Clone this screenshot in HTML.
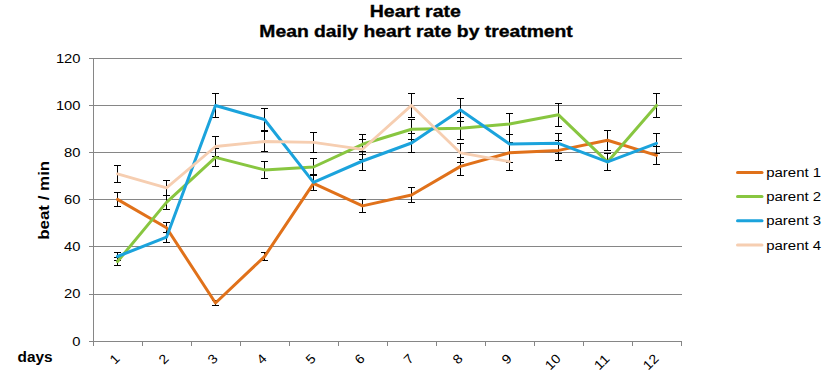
<!DOCTYPE html><html><head><meta charset="utf-8"><style>html,body{margin:0;padding:0;background:#fff;width:833px;height:373px;overflow:hidden}svg{display:block}text{font-family:"Liberation Sans",sans-serif;fill:#000}</style></head><body>
<svg width="833" height="373" viewBox="0 0 833 373">
<rect width="833" height="373" fill="#fff"/>
<text x="369.8" y="17" font-weight="bold" font-size="16" stroke="#000" stroke-width="0.35" textLength="91" lengthAdjust="spacingAndGlyphs">Heart rate</text>
<text x="259.3" y="36.7" font-weight="bold" font-size="16.3" stroke="#000" stroke-width="0.35" textLength="313.5" lengthAdjust="spacingAndGlyphs">Mean daily heart rate by treatment</text>
<path d="M89 58.5H682 M89 105.5H682 M89 152.5H682 M89 199.5H682 M89 246.5H682 M89 294.5H682" stroke="#868686" stroke-width="1" fill="none"/>
<path d="M93.5 58V346 M89 341.5H682 M93.5 341V346 M142.5 341V346 M191.5 341V346 M240.5 341V346 M289.5 341V346 M338.5 341V346 M387.5 341V346 M436.5 341V346 M485.5 341V346 M534.5 341V346 M583.5 341V346 M632.5 341V346 M681.5 341V346" stroke="#868686" stroke-width="1" fill="none"/>
<text x="80.5" y="345.5" text-anchor="end" font-size="12" textLength="8.2" lengthAdjust="spacingAndGlyphs">0</text>
<text x="80.5" y="298.3" text-anchor="end" font-size="12" textLength="16.4" lengthAdjust="spacingAndGlyphs">20</text>
<text x="80.5" y="251.2" text-anchor="end" font-size="12" textLength="16.4" lengthAdjust="spacingAndGlyphs">40</text>
<text x="80.5" y="204.0" text-anchor="end" font-size="12" textLength="16.4" lengthAdjust="spacingAndGlyphs">60</text>
<text x="80.5" y="156.8" text-anchor="end" font-size="12" textLength="16.4" lengthAdjust="spacingAndGlyphs">80</text>
<text x="80.5" y="109.7" text-anchor="end" font-size="12" textLength="24.6" lengthAdjust="spacingAndGlyphs">100</text>
<text x="80.5" y="62.5" text-anchor="end" font-size="12" textLength="24.6" lengthAdjust="spacingAndGlyphs">120</text>
<text transform="translate(49.2,239.8) rotate(-90)" font-weight="bold" font-size="14" textLength="79" lengthAdjust="spacingAndGlyphs">beat / min</text>
<text x="17.5" y="361.8" font-weight="bold" font-size="14" textLength="35" lengthAdjust="spacingAndGlyphs">days</text>
<text transform="translate(120.5,359.5) rotate(-45)" text-anchor="end" font-size="13" textLength="7.9" lengthAdjust="spacingAndGlyphs">1</text>
<text transform="translate(169.5,359.5) rotate(-45)" text-anchor="end" font-size="13" textLength="7.9" lengthAdjust="spacingAndGlyphs">2</text>
<text transform="translate(218.5,359.5) rotate(-45)" text-anchor="end" font-size="13" textLength="7.9" lengthAdjust="spacingAndGlyphs">3</text>
<text transform="translate(267.5,359.5) rotate(-45)" text-anchor="end" font-size="13" textLength="7.9" lengthAdjust="spacingAndGlyphs">4</text>
<text transform="translate(316.5,359.5) rotate(-45)" text-anchor="end" font-size="13" textLength="7.9" lengthAdjust="spacingAndGlyphs">5</text>
<text transform="translate(365.5,359.5) rotate(-45)" text-anchor="end" font-size="13" textLength="7.9" lengthAdjust="spacingAndGlyphs">6</text>
<text transform="translate(414.5,359.5) rotate(-45)" text-anchor="end" font-size="13" textLength="7.9" lengthAdjust="spacingAndGlyphs">7</text>
<text transform="translate(463.5,359.5) rotate(-45)" text-anchor="end" font-size="13" textLength="7.9" lengthAdjust="spacingAndGlyphs">8</text>
<text transform="translate(512.5,359.5) rotate(-45)" text-anchor="end" font-size="13" textLength="7.9" lengthAdjust="spacingAndGlyphs">9</text>
<text transform="translate(561.5,359.5) rotate(-45)" text-anchor="end" font-size="13" textLength="15.8" lengthAdjust="spacingAndGlyphs">10</text>
<text transform="translate(610.5,359.5) rotate(-45)" text-anchor="end" font-size="13" textLength="15.8" lengthAdjust="spacingAndGlyphs">11</text>
<text transform="translate(659.5,359.5) rotate(-45)" text-anchor="end" font-size="13" textLength="15.8" lengthAdjust="spacingAndGlyphs">12</text>
<path d="M117.5 192.5V206.5M114.0 192.5H121.0M114.0 206.5H121.0M166.5 222.5V232.5M163.0 222.5H170.0M163.0 232.5H170.0M215.5 300.5V305.5M212.0 300.5H219.0M212.0 305.5H219.0M264.5 252.5V260.5M261.0 252.5H268.0M261.0 260.5H268.0M313.5 175.5V190.5M310.0 175.5H317.0M310.0 190.5H317.0M362.5 199.5V212.5M359.0 199.5H366.0M359.0 212.5H366.0M411.5 187.5V202.5M408.0 187.5H415.0M408.0 202.5H415.0M460.5 157.5V175.5M457.0 157.5H464.0M457.0 175.5H464.0M509.5 142.5V162.5M506.0 142.5H513.0M506.0 162.5H513.0M558.5 140.5V160.5M555.0 140.5H562.0M555.0 160.5H562.0M607.5 130.5V150.5M604.0 130.5H611.0M604.0 150.5H611.0M656.5 146.5V164.5M653.0 146.5H660.0M653.0 164.5H660.0" stroke="#000" stroke-width="1" fill="none"/>
<path d="M117.5 257.5V265.5M114.0 257.5H121.0M114.0 265.5H121.0M166.5 195.5V209.5M163.0 195.5H170.0M163.0 209.5H170.0M215.5 148.5V166.5M212.0 148.5H219.0M212.0 166.5H219.0M264.5 161.5V178.5M261.0 161.5H268.0M261.0 178.5H268.0M313.5 158.5V175.5M310.0 158.5H317.0M310.0 175.5H317.0M362.5 134.5V154.5M359.0 134.5H366.0M359.0 154.5H366.0M411.5 119.5V139.5M408.0 119.5H415.0M408.0 139.5H415.0M460.5 117.5V139.5M457.0 117.5H464.0M457.0 139.5H464.0M509.5 113.5V134.5M506.0 113.5H513.0M506.0 134.5H513.0M558.5 103.5V126.5M555.0 103.5H562.0M555.0 126.5H562.0M607.5 153.5V170.5M604.0 153.5H611.0M604.0 170.5H611.0M656.5 93.5V117.5M653.0 93.5H660.0M653.0 117.5H660.0" stroke="#000" stroke-width="1" fill="none"/>
<path d="M117.5 252.5V260.5M114.0 252.5H121.0M114.0 260.5H121.0M166.5 232.5V242.5M163.0 232.5H170.0M163.0 242.5H170.0M215.5 93.5V117.5M212.0 93.5H219.0M212.0 117.5H219.0M264.5 108.5V130.5M261.0 108.5H268.0M261.0 130.5H268.0M313.5 174.5V190.5M310.0 174.5H317.0M310.0 190.5H317.0M362.5 151.5V170.5M359.0 151.5H366.0M359.0 170.5H366.0M411.5 133.5V152.5M408.0 133.5H415.0M408.0 152.5H415.0M460.5 98.5V121.5M457.0 98.5H464.0M457.0 121.5H464.0M509.5 134.5V153.5M506.0 134.5H513.0M506.0 153.5H513.0M558.5 133.5V153.5M555.0 133.5H562.0M555.0 153.5H562.0M607.5 153.5V170.5M604.0 153.5H611.0M604.0 170.5H611.0M656.5 133.5V153.5M653.0 133.5H660.0M653.0 153.5H660.0" stroke="#000" stroke-width="1" fill="none"/>
<path d="M117.5 165.5V182.5M114.0 165.5H121.0M114.0 182.5H121.0M166.5 180.5V195.5M163.0 180.5H170.0M163.0 195.5H170.0M215.5 136.5V156.5M212.0 136.5H219.0M212.0 156.5H219.0M264.5 131.5V151.5M261.0 131.5H268.0M261.0 151.5H268.0M313.5 132.5V152.5M310.0 132.5H317.0M310.0 152.5H317.0M362.5 139.5V159.5M359.0 139.5H366.0M359.0 159.5H366.0M411.5 93.5V117.5M408.0 93.5H415.0M408.0 117.5H415.0M460.5 143.5V162.5M457.0 143.5H464.0M457.0 162.5H464.0M509.5 153.5V170.5M506.0 153.5H513.0M506.0 170.5H513.0" stroke="#000" stroke-width="1" fill="none"/>
<polyline points="117.5,199.4 166.5,227.8 215.5,303.0 264.5,256.6 313.5,183.3 362.5,205.9 411.5,195.0 460.5,166.4 509.5,152.7 558.5,150.4 607.5,140.3 656.5,155.4" fill="none" stroke="#E0711A" stroke-width="3" stroke-linejoin="round" stroke-linecap="round"/>
<polyline points="117.5,261.5 166.5,202.4 215.5,157.4 264.5,169.9 313.5,167.0 362.5,144.3 411.5,129.2 460.5,128.3 509.5,124.0 558.5,114.8 607.5,161.9 656.5,105.4" fill="none" stroke="#88C640" stroke-width="3" stroke-linejoin="round" stroke-linecap="round"/>
<polyline points="117.5,256.5 166.5,237.2 215.5,105.5 264.5,119.5 313.5,182.3 362.5,161.0 411.5,143.0 460.5,109.9 509.5,144.1 558.5,143.3 607.5,161.8 656.5,143.4" fill="none" stroke="#1BA3DC" stroke-width="3" stroke-linejoin="round" stroke-linecap="round"/>
<polyline points="117.5,173.9 166.5,187.9 215.5,146.5 264.5,141.5 313.5,142.3 362.5,149.3 411.5,105.4 460.5,152.9 509.5,161.7" fill="none" stroke="#F6CEB1" stroke-width="2.8" stroke-linejoin="round" stroke-linecap="round"/>
<line x1="737.5" y1="172.4" x2="762" y2="172.4" stroke="#E0711A" stroke-width="3" stroke-linecap="round"/>
<text x="766.2" y="177.0" font-size="12" textLength="55" lengthAdjust="spacingAndGlyphs">parent 1</text>
<line x1="737.5" y1="196.6" x2="762" y2="196.6" stroke="#88C640" stroke-width="3" stroke-linecap="round"/>
<text x="766.2" y="201.2" font-size="12" textLength="55" lengthAdjust="spacingAndGlyphs">parent 2</text>
<line x1="737.5" y1="220.8" x2="762" y2="220.8" stroke="#1BA3DC" stroke-width="3" stroke-linecap="round"/>
<text x="766.2" y="225.4" font-size="12" textLength="55" lengthAdjust="spacingAndGlyphs">parent 3</text>
<line x1="737.5" y1="245.0" x2="762" y2="245.0" stroke="#F6CEB1" stroke-width="3" stroke-linecap="round"/>
<text x="766.2" y="249.6" font-size="12" textLength="55" lengthAdjust="spacingAndGlyphs">parent 4</text>
</svg></body></html>
